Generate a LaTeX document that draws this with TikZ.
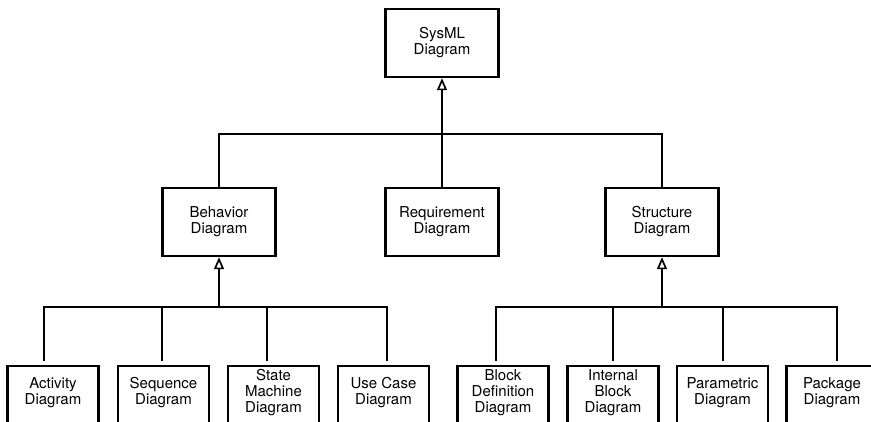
\documentclass[tikz,border=0pt]{standalone}
\usepackage{fontspec}
\setmainfont{TeX Gyre Heros}
\usetikzlibrary{arrows.meta}
\begin{document}
\begin{tikzpicture}[x=1pt,y=-1pt,
  txt/.style={align=center, font=\fontsize{15}{16}\selectfont},
  box/.style={txt, draw, line width=2.4pt, minimum width=113pt, minimum height=68pt, inner sep=0pt},
  leaf/.style={draw, line width=2.4pt, minimum width=91pt, minimum height=80pt, inner sep=0pt},
  lbl/.style={txt, yshift=13pt},
  conn/.style={line width=1.9pt},
  gen/.style={-{Triangle[open,length=12pt,width=10pt,line width=1.7pt]}}
]
\useasboundingbox (0,0) rectangle (871,421);
\clip (0,0) rectangle (871,421);

% top level
\node[box] (sys) at (442,43) {SysML\\Diagram};

% second level
\node[box] (beh) at (219,222) {Behavior\\Diagram};
\node[box] (req) at (442,222) {Requirement\\Diagram};
\node[box] (str) at (662,222) {Structure\\Diagram};

% leaves (open at the bottom edge)
\node[leaf, label={[lbl]center:Activity\\Diagram}] (act) at (53,406) {};
\node[leaf, label={[lbl]center:Sequence\\Diagram}] (seq) at (163.5,406) {};
\node[leaf, label={[lbl]center:State\\Machine\\Diagram}] (stm) at (273.5,406) {};
\node[leaf, label={[lbl]center:Use Case\\Diagram}] (uc) at (383.5,406) {};
\node[leaf, label={[lbl]center:Block\\Definition\\Diagram}] (bdd) at (503,406) {};
\node[leaf, label={[lbl]center:Internal\\Block\\Diagram}] (ibd) at (613,406) {};
\node[leaf, label={[lbl]center:Parametric\\Diagram}] (par) at (722.5,406) {};
\node[leaf, label={[lbl]center:Package\\Diagram}] (pkg) at (832,406) {};

% bars joining the children
\coordinate (tbar) at (442,134);
\coordinate (lbar) at (219,307);
\coordinate (rbar) at (662,307);

% line ends just above the leaves
\coordinate (actin) at ([xshift=-9pt,yshift=4pt]act.north);
\coordinate (seqin) at ([xshift=-1.5pt,yshift=4pt]seq.north);
\coordinate (stmin) at ([xshift=-6.5pt,yshift=4pt]stm.north);
\coordinate (ucin)  at ([xshift=3.5pt,yshift=4pt]uc.north);
\coordinate (bddin) at ([xshift=-7pt,yshift=4pt]bdd.north);
\coordinate (ibdin) at ([xshift=0pt,yshift=4pt]ibd.north);
\coordinate (parin) at ([xshift=0.5pt,yshift=4pt]par.north);
\coordinate (pkgin) at ([xshift=5pt,yshift=4pt]pkg.north);

% generalization to SysML Diagram
\draw[conn] (beh.north) |- (tbar) -| (str.north);
\draw[conn,gen] (req.north) -- (sys.south);

% generalization to Behavior Diagram
\draw[conn] (actin) |- (lbar) -| (ucin);
\draw[conn] (seqin) -- (seqin |- lbar);
\draw[conn] (stmin) -- (stmin |- lbar);
\draw[conn,gen] (lbar) -- (beh.south);

% generalization to Structure Diagram
\draw[conn] (bddin) |- (rbar) -| (pkgin);
\draw[conn] (ibdin) -- (ibdin |- rbar);
\draw[conn] (parin) -- (parin |- rbar);
\draw[conn,gen] (rbar) -- (str.south);
\end{tikzpicture}
\end{document}
